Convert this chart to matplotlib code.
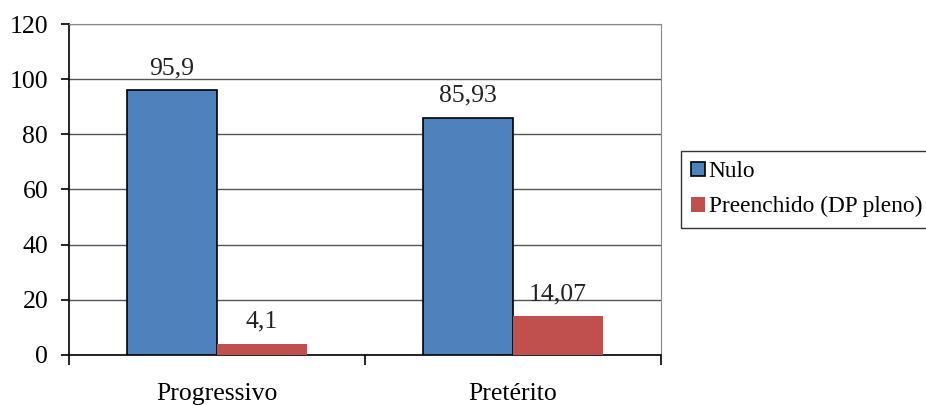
import numpy as np
import matplotlib
matplotlib.use("Agg")
import matplotlib.pyplot as plt
from matplotlib.ticker import FixedLocator

# Data
categories = ["Progressivo", "Pretérito"]
nulo = [95.9, 85.93]
preenchido = [4.1, 14.07]
nulo_labels = ["95,9", "85,93"]
preenchido_labels = ["4,1", "14,07"]
series_names = ["Nulo", "Preenchido (DP pleno)"]
y_ticks = [0, 20, 40, 60, 80, 100, 120]

plt.rcParams["font.family"] = ["Liberation Serif", "DejaVu Serif"]

fig = plt.figure(figsize=(9.26, 4.05), dpi=100)
ax = fig.add_axes([0.0745, 0.1235, 0.6393, 0.8172])

x = np.arange(len(categories))
width = 0.305

b1 = ax.bar(x - width / 2, nulo, width, color="#4F81BD", edgecolor="black",
            linewidth=1.2, label=series_names[0], zorder=3)
b2 = ax.bar(x + width / 2, preenchido, width, color="#C0504D",
            linewidth=0, label=series_names[1], zorder=3)

for rect, txt in zip(b1, nulo_labels):
    ax.annotate(txt, (rect.get_x() + rect.get_width() / 2, rect.get_height()),
                xytext=(0, 8), textcoords="offset points", ha="center", va="bottom",
                fontsize=18.5, color="#222222", zorder=4)
for rect, txt in zip(b2, preenchido_labels):
    ax.annotate(txt, (rect.get_x() + rect.get_width() / 2, rect.get_height()),
                xytext=(0, 8), textcoords="offset points", ha="center", va="bottom",
                fontsize=18.5, color="#222222", zorder=4)

ax.set_xlim(-0.5, 1.5)
ax.set_ylim(0, 120)
ax.set_yticks(y_ticks)
ax.set_yticklabels([str(t) for t in y_ticks], fontsize=18.5)
ax.yaxis.grid(True, color="#555555", linewidth=1.0, zorder=0)
ax.tick_params(axis="y", direction="out", length=6, width=1.2, pad=9)

ax.set_xticks(x)
ax.set_xticklabels(categories, fontsize=18.5)
ax.tick_params(axis="x", which="major", length=0, pad=20)
ax.xaxis.set_minor_locator(FixedLocator([-0.5, 0.5, 1.5]))
ax.tick_params(axis="x", which="minor", direction="out", length=7, width=1.2)

ax.spines["left"].set_color("black")
ax.spines["left"].set_linewidth(1.2)
ax.spines["bottom"].set_color("black")
ax.spines["bottom"].set_linewidth(1.2)
ax.spines["top"].set_color("#888888")
ax.spines["right"].set_color("#888888")

leg = fig.legend(handles=[b1, b2], loc="upper left", bbox_to_anchor=(0.735, 0.628),
                 prop={"size": 16.8}, frameon=True, fancybox=False, edgecolor="black",
                 handlelength=0.6, handleheight=0.6, handletextpad=0.15,
                 borderpad=0.45, labelspacing=0.6, borderaxespad=0)
leg.get_frame().set_linewidth(1.0)

fig.savefig("out.png", dpi=100)
